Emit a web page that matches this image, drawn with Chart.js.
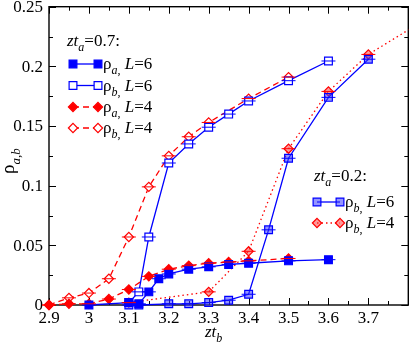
<!DOCTYPE html>
<html>
<head>
<meta charset="utf-8">
<script src="https://cdn.jsdelivr.net/npm/chart.js@4"></script>
<style>
html, body { margin: 0; padding: 0; background: #fff; }
#wrap { width: 415px; height: 347px; }
</style>
</head>
<body>
<div id="wrap"><canvas id="chart" width="415" height="347"></canvas></div>
<script>
// zt_a = 0.7
let xA6 = [3.0, 3.1, 3.125, 3.15, 3.175, 3.2, 3.25, 3.3, 3.35, 3.4, 3.5, 3.6]
let rhoA6 = [0, 0.002, 0.001, 0.011, 0.022, 0.026, 0.030, 0.032, 0.034, 0.035, 0.037, 0.038]
let xB6 = [3.1, 3.125, 3.15, 3.2, 3.25, 3.3, 3.35, 3.4, 3.5, 3.6]
let rhoB6 = [0.002, 0.011, 0.057, 0.119, 0.135, 0.149, 0.160, 0.171, 0.188, 0.2045]
let xA4 = [2.9, 2.95, 3.0, 3.05, 3.1, 3.15, 3.2, 3.25, 3.3, 3.35, 3.4, 3.5]
let rhoA4 = [0, 0.001, 0.001, 0.005, 0.013, 0.024, 0.030, 0.033, 0.035, 0.036, 0.037, 0.039]
let xB4 = [2.9, 2.95, 3.0, 3.05, 3.1, 3.15, 3.2, 3.25, 3.3, 3.4, 3.5]
let rhoB4 = [0, 0.006, 0.010, 0.022, 0.057, 0.099, 0.125, 0.141, 0.153, 0.173, 0.191]

// zt_a = 0.2
let xB6low = [3.1, 3.125, 3.2, 3.25, 3.3, 3.35, 3.4, 3.45, 3.5, 3.6, 3.7]
let rhoB6low = [0, 0, 0.001, 0.001, 0.002, 0.004, 0.009, 0.063, 0.123, 0.174, 0.206]
let xB4low = [3.1, 3.3, 3.4, 3.5, 3.6, 3.7, 3.9]
let rhoB4low = [0.002, 0.011, 0.045, 0.131, 0.179, 0.210, 0.251]

let xTicks = [2.9, 3.0, 3.1, 3.2, 3.3, 3.4, 3.5, 3.6, 3.7]
let yTicks = [0, 0.05, 0.1, 0.15, 0.2, 0.25]

const BLUE = '#0000ff'
const RED = '#ff0000'
const FONT = '"Liberation Serif"'

function pts(xs, ys) {
    return xs.map((x, i) => ({x: x, y: ys[i]}))
}

function richText(ctx, parts, x, y, size) {
    let cx = x
    for (const [t, s] of parts) {
        const sub = s[0] === 's'
        const ital = s.indexOf('i') >= 0
        ctx.font = (ital ? 'italic ' : '') + (sub ? Math.round(size * 0.7) : size) + 'px ' + FONT
        ctx.fillText(t, cx, sub ? y + size * 0.3 : y)
        cx += ctx.measureText(t).width
    }
    return cx
}

// box, inward ticks on all four sides, tick labels
const framePlugin = {
    id: 'framePlugin',
    beforeDatasetsDraw(chart) {
        const ctx = chart.ctx
        const a = chart.chartArea
        const sx = chart.scales.x, sy = chart.scales.y
        ctx.save()
        ctx.strokeStyle = '#000'
        ctx.lineWidth = 1
        ctx.beginPath()
        for (let i = 0; i <= 18; i++) {
            const px = Math.round(sx.getPixelForValue(2.9 + i * 0.05)) + 0.5
            const len = i % 2 ? 4 : 7
            ctx.moveTo(px, a.bottom); ctx.lineTo(px, a.bottom - len)
            ctx.moveTo(px, a.top); ctx.lineTo(px, a.top + len)
        }
        for (let i = 0; i <= 10; i++) {
            const py = Math.round(sy.getPixelForValue(i * 0.025)) + 0.5
            const len = i % 2 ? 4 : 7
            ctx.moveTo(a.left, py); ctx.lineTo(a.left + len, py)
            ctx.moveTo(a.right, py); ctx.lineTo(a.right - len, py)
        }
        ctx.stroke()
        ctx.lineWidth = 1.4
        ctx.strokeRect(a.left, a.top, a.right - a.left, a.bottom - a.top)

        ctx.fillStyle = '#000'
        ctx.font = '17px ' + FONT
        ctx.textAlign = 'center'
        ctx.textBaseline = 'alphabetic'
        xTicks.forEach(v => ctx.fillText(String(v), sx.getPixelForValue(v), a.bottom + 18))
        ctx.textAlign = 'right'
        ctx.textBaseline = 'middle'
        yTicks.forEach(v => ctx.fillText(String(v), a.left - 6, sy.getPixelForValue(v) + 1))
        ctx.restore()
    },
    afterDatasetsDraw(chart) {
        // small error-bar caps through every marker
        const ctx = chart.ctx
        const a = chart.chartArea
        ctx.save()
        ctx.lineWidth = 1
        chart.data.datasets.forEach((ds, i) => {
            const meta = chart.getDatasetMeta(i)
            ctx.strokeStyle = ds.borderColor
            ctx.beginPath()
            meta.data.forEach(el => {
                if (el.x > a.right + 1) return
                ctx.moveTo(el.x - 7, el.y); ctx.lineTo(el.x + 7, el.y)
            })
            ctx.stroke()
        })
        ctx.restore()
    },
    afterDraw(chart) {
        const ctx = chart.ctx
        const ds = chart.data.datasets
        ctx.save()
        ctx.fillStyle = '#000'
        ctx.textBaseline = 'alphabetic'

        // axis titles
        richText(ctx, [['zt', 'i'], ['b', 'si']], 205, 337, 17)
        ctx.save()
        ctx.translate(14, 174)
        ctx.rotate(-Math.PI / 2)
        richText(ctx, [['ρ', 'r'], ['a,b', 'si']], 0, 0, 19)
        ctx.restore()

        function row(d, x1, x2, y, label) {
            ctx.save()
            ctx.strokeStyle = d.borderColor
            ctx.lineWidth = 1.3
            ctx.setLineDash(d.borderDash || [])
            ctx.beginPath(); ctx.moveTo(x1, y); ctx.lineTo(x2, y); ctx.stroke()
            ctx.setLineDash([])
            ctx.fillStyle = d.pointBackgroundColor
            ctx.strokeStyle = d.pointBorderColor
            ctx.lineWidth = d.pointBorderWidth
            const opts = {pointStyle: d.pointStyle, radius: d.pointRadius, rotation: 0, borderWidth: d.pointBorderWidth}
            Chart.helpers.drawPoint(ctx, opts, x1, y)
            Chart.helpers.drawPoint(ctx, opts, x2, y)
            ctx.restore()
            richText(ctx, label, x2 + 5, y + 5, 17)
        }

        // upper legend
        richText(ctx, [['zt', 'i'], ['a', 'si'], ['=0.7:', 'r']], 67, 46, 17)
        row(ds[0], 73, 98, 64, [['ρ', 'r'], ['a', 'si'], [',', 's'], [' L', 'i'], ['=6', 'r']])
        row(ds[1], 73, 98, 85.5, [['ρ', 'r'], ['b', 'si'], [',', 's'], [' L', 'i'], ['=6', 'r']])
        row(ds[2], 73, 98, 107, [['ρ', 'r'], ['a', 'si'], [',', 's'], [' L', 'i'], ['=4', 'r']])
        row(ds[3], 73, 98, 128, [['ρ', 'r'], ['b', 'si'], [',', 's'], [' L', 'i'], ['=4', 'r']])

        // lower legend
        richText(ctx, [['zt', 'i'], ['a', 'si'], ['=0.2:', 'r']], 314, 181, 17)
        row(ds[4], 317, 340, 202, [['ρ', 'r'], ['b', 'si'], [',', 's'], [' L', 'i'], ['=6', 'r']])
        row(ds[5], 317, 340, 223, [['ρ', 'r'], ['b', 'si'], [',', 's'], [' L', 'i'], ['=4', 'r']])
        ctx.restore()
    }
}

function series(xs, ys, color, style, fill, dash, r) {
    return {
        data: pts(xs, ys),
        showLine: true,
        borderColor: color,
        borderWidth: 1.3,
        borderDash: dash,
        pointStyle: style,
        pointRadius: r,
        pointHoverRadius: r,
        pointBorderWidth: 1.2,
        pointBorderColor: color,
        pointBackgroundColor: fill,
        clip: false
    }
}

let datasets = [
    series(xA6, rhoA6, BLUE, 'rect', BLUE, [], 5.5),
    series(xB6, rhoB6, BLUE, 'rect', '#ffffff', [], 5.5),
    series(xA4, rhoA4, RED, 'rectRot', RED, [6, 4], 4.6),
    series(xB4, rhoB4, RED, 'rectRot', '#ffffff', [6, 4], 4.6),
    series(xB6low, rhoB6low, BLUE, 'rect', 'rgba(60,60,255,0.55)', [], 5.5),
    series(xB4low, rhoB4low, RED, 'rectRot', 'rgba(255,70,70,0.55)', [1.5, 3], 4.6)
]
datasets[5].clip = {left: 10, top: 0, right: 0, bottom: 10}

let chart = new Chart(document.getElementById('chart'), {
    type: 'scatter',
    data: {datasets: datasets},
    options: {
        responsive: false,
        animation: false,
        events: [],
        layout: {padding: {top: 6, right: 1, left: 0, bottom: 0}},
        plugins: {legend: {display: false}, tooltip: {enabled: false}},
        scales: {
            x: {
                type: 'linear',
                min: 2.9,
                max: 3.8,
                afterFit(scale) {
                    scale.height = 42
                    scale.paddingLeft = 0
                    scale.paddingRight = 0
                },
                grid: {display: false, drawTicks: false},
                border: {display: false},
                ticks: {display: false}
            },
            y: {
                min: 0,
                max: 0.25,
                afterFit(scale) {
                    scale.width = 49
                    scale.paddingTop = 0
                    scale.paddingBottom = 0
                },
                grid: {display: false, drawTicks: false},
                border: {display: false},
                ticks: {display: false}
            }
        }
    },
    plugins: [framePlugin]
})
</script>
</body>
</html>
